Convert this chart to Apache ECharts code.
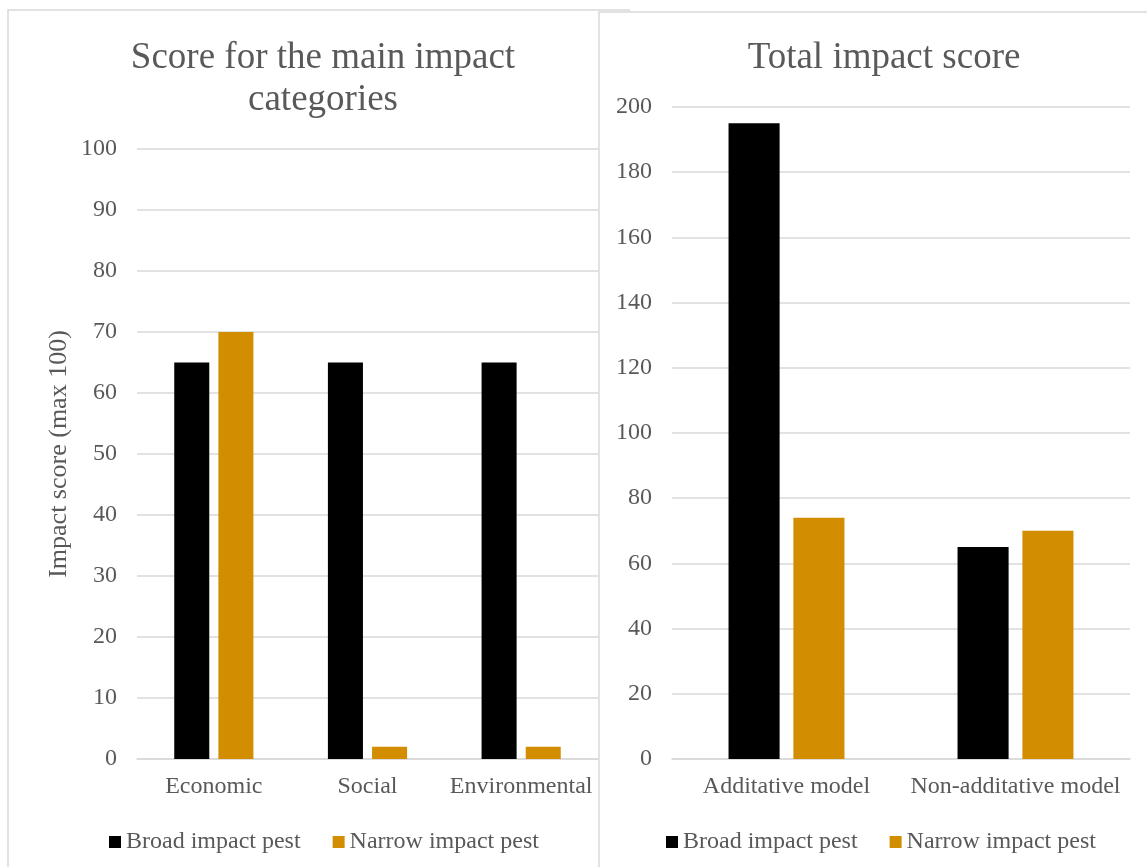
<!DOCTYPE html>
<html><head><meta charset="utf-8">
<script src="https://cdn.jsdelivr.net/npm/echarts@6/dist/echarts.min.js"></script>
<style>html,body{margin:0;padding:0;background:#fff;}#c{width:1147px;height:867px;}</style>
</head><body><div id="c"></div>
<script>
const categoriesLeft = ['Economic', 'Social', 'Environmental'];
const broadLeft = [65, 65, 65];
const narrowLeft = [70, 2, 2];
const categoriesRight = ['Additative model', 'Non-additative model'];
const broadRight = [195, 65];
const narrowRight = [74, 70];
const seriesNames = ['Broad impact pest', 'Narrow impact pest'];
const titleLeft = 'Score for the main impact\ncategories';
const titleRight = 'Total impact score';
const yNameLeft = 'Impact score (max 100)';

const FONT = '"Liberation Serif", "Times New Roman", serif';
const TXT = '#595959';
const GRID = '#d9d9d9';
const BLACK = '#000000';
const ORANGE = '#D38D00';

const chart = echarts.init(document.getElementById('c'), null, {renderer: 'canvas'});
const txt = (s) => ({fontFamily: FONT, color: TXT, fontSize: s});

function xAxis(idx, cats) {
  return {
    type: 'category', gridIndex: idx, data: cats,
    axisLine: {lineStyle: {color: GRID, width: 1.5}},
    axisTick: {show: false},
    axisLabel: Object.assign(txt(24), {margin: 16, interval: 0})
  };
}
function yAxis(idx, max, interval, extra) {
  return Object.assign({
    type: 'value', gridIndex: idx, min: 0, max: max, interval: interval,
    axisLine: {show: false}, axisTick: {show: false},
    splitLine: {lineStyle: {color: GRID, width: 1.5}},
    axisLabel: Object.assign(txt(24), {margin: 20})
  }, extra || {});
}

const legendCommon = {data: seriesNames, top: 825, icon: 'rect', itemWidth: 12, itemHeight: 12, itemGap: 32, textStyle: txt(24)};

const option = {
  animation: false,
  backgroundColor: '#fff',
  graphic: [
    {type: 'rect', z: -10, shape: {x: 8, y: 10, width: 621, height: 880}, style: {fill: '#fff', stroke: GRID, lineWidth: 1.5}},
    {type: 'rect', z: -9, shape: {x: 599, y: 12, width: 580, height: 880}, style: {fill: '#fff', stroke: GRID, lineWidth: 1.5}}
  ],
  title: [
    {text: titleLeft, left: 318, textAlign: 'center', top: 32, textStyle: Object.assign(txt(37), {fontWeight: 'normal', lineHeight: 42})},
    {text: titleRight, left: 879, textAlign: 'center', top: 32, textStyle: Object.assign(txt(37), {fontWeight: 'normal', lineHeight: 42})}
  ],
  legend: [
    Object.assign({left: 104}, legendCommon),
    Object.assign({left: 661}, legendCommon)
  ],
  grid: [
    {left: 137, right: 549, top: 149, bottom: 108},
    {left: 672, right: 17, top: 107, bottom: 108}
  ],
  xAxis: [xAxis(0, categoriesLeft), xAxis(1, categoriesRight)],
  yAxis: [
    yAxis(0, 100, 10, {name: yNameLeft, nameLocation: 'middle', nameGap: 65, nameTextStyle: txt(26)}),
    yAxis(1, 200, 20)
  ],
  series: [
    {name: seriesNames[0], type: 'bar', xAxisIndex: 0, yAxisIndex: 0, data: broadLeft, itemStyle: {color: BLACK}, barWidth: '22.8%', barGap: '26%'},
    {name: seriesNames[1], type: 'bar', xAxisIndex: 0, yAxisIndex: 0, data: narrowLeft, itemStyle: {color: ORANGE}, barWidth: '22.8%', barGap: '26%'},
    {name: seriesNames[0], type: 'bar', xAxisIndex: 1, yAxisIndex: 1, data: broadRight, itemStyle: {color: BLACK}, barWidth: '22.3%', barGap: '27%'},
    {name: seriesNames[1], type: 'bar', xAxisIndex: 1, yAxisIndex: 1, data: narrowRight, itemStyle: {color: ORANGE}, barWidth: '22.3%', barGap: '27%'}
  ]
};
chart.setOption(option);
</script></body></html>
